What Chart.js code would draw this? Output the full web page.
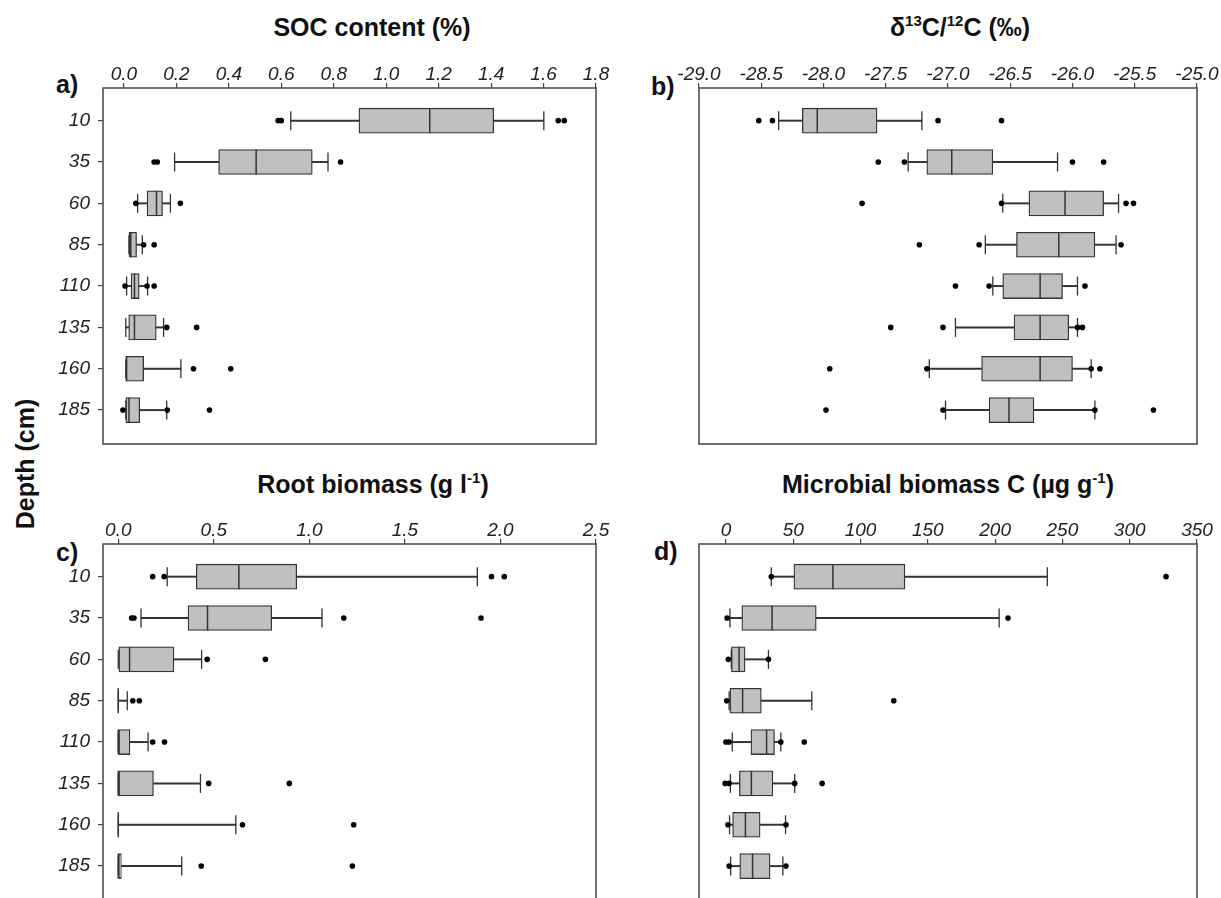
<!DOCTYPE html>
<html>
<head>
<meta charset="utf-8">
<script src="https://cdn.jsdelivr.net/npm/chart.js@4.4.1/dist/chart.umd.min.js"></script>
<style>
    html, body { margin:0; padding:0; background:#fff; overflow:hidden; }
    body { width:1221px; height:898px; position:relative; font-family:'Liberation Sans', Arial, sans-serif; }
    canvas { position:absolute; }
    .ttl, .lbl, .ylab { position:absolute; font-weight:bold; color:#111; white-space:nowrap; }
    .ttl  { font-size:25px; transform:translate(-50%, -50%); }
    .ttl sup { font-size:15px; }
    .lbl  { font-size:25px; transform:translate(0, -50%); }
    .ylab { font-size:25px; left:25px; top:464px; transform:translate(-50%, -50%) rotate(-90deg); }
</style>
</head>
<body>

<div class="ttl" style="left:372px;top:27px;">SOC content (%)</div>
<div class="ttl" style="left:960px;top:27px;">&delta;<sup>13</sup>C/<sup>12</sup>C (&permil;)</div>
<div class="ttl" style="left:373px;top:484px;">Root biomass (g l<sup>-1</sup>)</div>
<div class="ttl" style="left:948px;top:484px;">Microbial biomass C (&micro;g g<sup>-1</sup>)</div>

<div class="lbl" style="left:56px;top:84px;">a)</div>
<div class="lbl" style="left:651px;top:86px;">b)</div>
<div class="lbl" style="left:56px;top:552px;">c)</div>
<div class="lbl" style="left:654px;top:551px;">d)</div>

<div class="ylab">Depth (cm)</div>

<canvas id="chartA" width="610" height="458" style="left:0;top:0;"></canvas>
<canvas id="chartB" width="611" height="458" style="left:610px;top:0;"></canvas>
<canvas id="chartC" width="610" height="458" style="left:0;top:456px;"></canvas>
<canvas id="chartD" width="611" height="458" style="left:610px;top:456px;"></canvas>

<script>
// ============================================================
// DATA — depth profiles, one box per depth
// ============================================================

const depthLabels = ['10', '35', '60', '85', '110', '135', '160', '185'];

// a) SOC content (%)
const socTicks = [0.0, 0.2, 0.4, 0.6, 0.8, 1.0, 1.2, 1.4, 1.6, 1.8];
const socWLo   = [0.636, 0.193, 0.052, 0.019, 0.010, 0.007, 0.007, 0.007];
const socQ1    = [0.896, 0.361, 0.088, 0.019, 0.027, 0.018, 0.007, 0.007];
const socMed   = [1.166, 0.504, 0.124, 0.026, 0.040, 0.040, 0.010, 0.019];
const socQ3    = [1.410, 0.718, 0.147, 0.048, 0.058, 0.123, 0.075, 0.060];
const socWHi   = [1.601, 0.778, 0.177, 0.070, 0.090, 0.151, 0.217, 0.163];
const socOut   = [
    [0.588, 0.600, 1.656, 1.679],
    [0.115, 0.127, 0.826],
    [0.045, 0.215],
    [0.075, 0.115],
    [0.004, 0.088, 0.115],
    [0.163, 0.277],
    [0.265, 0.407],
    [-0.004, 0.165, 0.326]
];

// b) d13C/12C (permil)
const isoTicks = [-29.0, -28.5, -28.0, -27.5, -27.0, -26.5, -26.0, -25.5, -25.0];
const isoWLo   = [-28.36, -27.32, -26.56, -26.70, -26.64, -26.94, -27.15, -27.02];
const isoQ1    = [-28.17, -27.17, -26.35, -26.45, -26.56, -26.47, -26.73, -26.67];
const isoMed   = [-28.05, -26.97, -26.06, -26.11, -26.26, -26.26, -26.26, -26.51];
const isoQ3    = [-27.57, -26.64, -25.75, -25.82, -26.08, -26.03, -26.00, -26.31];
const isoWHi   = [-27.21, -26.12, -25.63, -25.65, -25.96, -25.96, -25.85, -25.82];
const isoOut   = [
    [-28.52, -28.41, -27.08, -26.57],
    [-27.56, -27.35, -26.00, -25.75],
    [-27.69, -26.57, -25.57, -25.51],
    [-27.23, -26.75, -25.61],
    [-26.94, -26.67, -25.90],
    [-27.46, -27.04, -25.96, -25.92],
    [-27.95, -27.17, -25.85, -25.78],
    [-27.98, -27.04, -25.82, -25.35]
];

// c) Root biomass (g l-1)
const rootTicks = [0.0, 0.5, 1.0, 1.5, 2.0, 2.5];
const rootWLo   = [0.256, 0.119, 0, 0, 0, 0, 0, 0];
const rootQ1    = [0.408, 0.365, 0, 0, 0, 0, 0, 0];
const rootMed   = [0.631, 0.467, 0.059, 0, 0, 0, 0, 0];
const rootQ3    = [0.934, 0.803, 0.291, 0, 0.061, 0.184, 0, 0.016];
const rootWHi   = [1.879, 1.066, 0.436, 0.047, 0.156, 0.430, 0.615, 0.332];
const rootOut   = [
    [0.180, 0.240, 1.953, 2.020],
    [0.070, 0.082, 1.180, 1.898],
    [0.465, 0.770],
    [0.076, 0.110],
    [0.180, 0.242],
    [0.473, 0.895],
    [0.650, 1.232],
    [0.434, 1.225]
];

// d) Microbial biomass C (ug g-1)
const micTicks = [0, 50, 100, 150, 200, 250, 300, 350];
const micWLo   = [33.7, 3.0, 4.0, 2.4, 4.7, 3.3, 2.7, 3.5];
const micQ1    = [50.5, 11.8, 4.1, 3.0, 18.6, 10.0, 5.0, 10.3];
const micMed   = [79.5, 34.3, 9.8, 12.4, 30.2, 18.9, 14.5, 19.8];
const micQ3    = [133.0, 67.1, 14.2, 26.3, 36.1, 34.9, 25.4, 32.8];
const micWHi   = [238.8, 203.0, 31.6, 63.8, 40.8, 51.1, 44.3, 42.3];
const micOut   = [
    [33.7, 327.0],
    [0.9, 209.6],
    [1.8, 31.6],
    [0.6, 124.7],
    [0.0, 2.4, 40.8, 58.2],
    [-0.6, 2.4, 51.1, 71.5],
    [1.5, 44.6],
    [2.4, 44.6]
];

// ============================================================
// CHARTS
// ============================================================

const INK  = '#333333';
const BOX  = '#c0c0c0';
const rowY = depthLabels.map((_, i) => i + 1);

const framePlugin = {
    id: 'frame',
    afterDraw(chart) {
        const a = chart.chartArea, ctx = chart.ctx;
        ctx.save();
        ctx.strokeStyle = '#444';
        ctx.lineWidth = 1.5;
        ctx.strokeRect(a.left, a.top, a.right - a.left, a.bottom - a.top);
        ctx.restore();
    }
};

function boxDatasets(wLo, q1, med, q3, wHi, out) {
    return [
        {   // outliers
            type: 'scatter',
            data: out.flatMap((list, i) => list.map(v => ({ x: v, y: rowY[i] }))),
            pointStyle: 'circle',
            pointRadius: 2.8,
            pointBackgroundColor: '#000',
            pointBorderWidth: 0
        },
        {   // whisker caps
            type: 'scatter',
            data: rowY.flatMap((y, i) => [{ x: wLo[i], y }, { x: wHi[i], y }]),
            pointStyle: 'line',
            pointRotation: 90,
            pointRadius: 9.5,
            pointBorderColor: INK,
            pointBorderWidth: 1.3
        },
        {   // medians
            type: 'scatter',
            data: rowY.map((y, i) => ({ x: med[i], y })),
            pointStyle: 'line',
            pointRotation: 90,
            pointRadius: 12.5,
            pointBorderColor: INK,
            pointBorderWidth: 1.5
        },
        {   // boxes q1..q3
            type: 'bar',
            indexAxis: 'y',
            data: rowY.map((y, i) => ({ x: [q1[i], q3[i]], y })),
            backgroundColor: BOX,
            borderColor: INK,
            borderWidth: 1.3,
            borderSkipped: false,
            barThickness: 25,
            grouped: false
        },
        {   // whisker stems
            type: 'bar',
            indexAxis: 'y',
            data: rowY.flatMap((y, i) => [{ x: [wLo[i], q1[i]], y }, { x: [q3[i], wHi[i]], y }]),
            backgroundColor: INK,
            borderWidth: 0,
            barThickness: 1.3,
            grouped: false
        }
    ];
}

function makePanel(id, cfg) {
    const tickFont = { family: "'Liberation Sans', Arial, sans-serif", size: 19, style: 'italic' };
    return new Chart(document.getElementById(id), {
        type: 'scatter',
        data: { datasets: boxDatasets(cfg.wLo, cfg.q1, cfg.med, cfg.q3, cfg.wHi, cfg.out) },
        options: {
            responsive: false,
            animation: false,
            events: [],
            layout: { padding: { left: 0, top: 0, right: cfg.padRight, bottom: 7 } },
            plugins: { legend: { display: false }, tooltip: { enabled: false } },
            scales: {
                x: {
                    type: 'linear',
                    position: 'top',
                    offset: false,
                    min: cfg.min,
                    max: cfg.max,
                    afterBuildTicks: s => { s.ticks = cfg.ticks.map(v => ({ value: v })); },
                    afterFit: s => { s.height = 88; s.paddingLeft = 0; s.paddingRight = 0; },
                    ticks: {
                        font: tickFont, color: '#222', padding: -3, maxRotation: 0,
                        callback: v => v.toFixed(cfg.digits)
                    },
                    grid: { offset: false, drawOnChartArea: false, drawTicks: true, tickLength: 5, color: '#444', lineWidth: 1.2 },
                    border: { display: false }
                },
                y: {
                    type: 'linear',
                    reverse: true,
                    offset: false,
                    min: 0.21,
                    max: 8.82,
                    afterBuildTicks: s => { s.ticks = rowY.map(v => ({ value: v })); },
                    afterFit: s => { s.width = cfg.yWidth; s.paddingTop = 0; s.paddingBottom = 0; },
                    ticks: {
                        font: tickFont, color: '#222', padding: 8,
                        display: cfg.showRows,
                        callback: v => depthLabels[v - 1]
                    },
                    grid: { offset: false, drawOnChartArea: false, drawTicks: cfg.showRows, tickLength: 5, color: '#444', lineWidth: 1.2 },
                    border: { display: false }
                }
            }
        },
        plugins: [framePlugin]
    });
}

makePanel('chartA', { wLo: socWLo, q1: socQ1, med: socMed, q3: socQ3, wHi: socWHi, out: socOut,
    ticks: socTicks, min: -0.08, max: 1.8, digits: 1, yWidth: 103, padRight: 9, showRows: true });
makePanel('chartB', { wLo: isoWLo, q1: isoQ1, med: isoMed, q3: isoQ3, wHi: isoWHi, out: isoOut,
    ticks: isoTicks, min: -29.0, max: -25.0, digits: 1, yWidth: 89, padRight: 24, showRows: false });
makePanel('chartC', { wLo: rootWLo, q1: rootQ1, med: rootMed, q3: rootQ3, wHi: rootWHi, out: rootOut,
    ticks: rootTicks, min: -0.08, max: 2.5, digits: 1, yWidth: 103, padRight: 9, showRows: true });
makePanel('chartD', { wLo: micWLo, q1: micQ1, med: micMed, q3: micQ3, wHi: micWHi, out: micOut,
    ticks: micTicks, min: -20, max: 350, digits: 0, yWidth: 89, padRight: 24, showRows: false });
</script>
</body>
</html>
